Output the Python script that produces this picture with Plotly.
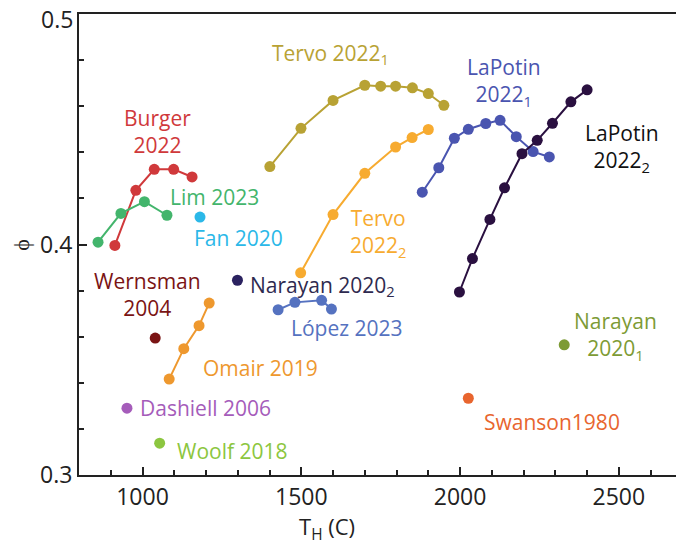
import plotly.graph_objects as go

# ---------------- data ----------------
burger_x = [913, 979, 1037, 1098, 1156]
burger_y = [0.3996, 0.4235, 0.4326, 0.4326, 0.4293]

lim_x = [860, 932, 1006, 1077]
lim_y = [0.4010, 0.4135, 0.4186, 0.4127]

fan_x = [1181]
fan_y = [0.4119]

wernsman_x = [1040]
wernsman_y = [0.3594]

narayan2_x = [1299]
narayan2_y = [0.3845]

lopez_x = [1427, 1480, 1564, 1595]
lopez_y = [0.3717, 0.3749, 0.3758, 0.3720]

omair_x = [1084, 1130, 1178, 1210]
omair_y = [0.3416, 0.3548, 0.3648, 0.3746]

dashiell_x = [951]
dashiell_y = [0.3290]

woolf_x = [1054]
woolf_y = [0.3138]

tervo1_x = [1401, 1499, 1600, 1700, 1750, 1797, 1850, 1900, 1949]
tervo1_y = [0.4338, 0.4504, 0.4625, 0.4691, 0.4687, 0.4687, 0.4680, 0.4655, 0.4604]

tervo2_x = [1498, 1600, 1700, 1797, 1849, 1900]
tervo2_y = [0.3877, 0.4130, 0.4309, 0.4423, 0.4464, 0.4499]

lapotin1_x = [1881, 1933, 1982, 2026, 2081, 2126, 2177, 2230, 2281]
lapotin1_y = [0.4227, 0.4333, 0.4461, 0.4500, 0.4525, 0.4539, 0.4468, 0.4403, 0.4380]

lapotin2_x = [1998, 2039, 2094, 2140, 2195, 2243, 2291, 2349, 2400]
lapotin2_y = [0.3794, 0.3939, 0.4109, 0.4246, 0.4394, 0.4452, 0.4526, 0.4619, 0.4671]

narayan1_x = [2328]
narayan1_y = [0.3565]

swanson_x = [2026]
swanson_y = [0.3333]

x_tick_vals = [1000, 1500, 2000, 2500]
y_tick_vals = [0.3, 0.4, 0.5]
y_tick_text = ["0.3", "0.4", ""]   # top label drawn below as annotation
y_top_label = "0.5"

# ---------------- styling ----------------
FONT = "Open Sans"
INK = "#222222"
series = [
    (burger_x, burger_y, "#d0393b"),
    (lim_x, lim_y, "#43b56c"),
    (fan_x, fan_y, "#2bb8e8"),
    (wernsman_x, wernsman_y, "#7a1414"),
    (narayan2_x, narayan2_y, "#2b2260"),
    (lopez_x, lopez_y, "#5572c0"),
    (omair_x, omair_y, "#ee982e"),
    (dashiell_x, dashiell_y, "#a55cba"),
    (woolf_x, woolf_y, "#8cc640"),
    (tervo1_x, tervo1_y, "#b8a234"),
    (tervo2_x, tervo2_y, "#f7ab30"),
    (lapotin1_x, lapotin1_y, "#4a55b0"),
    (lapotin2_x, lapotin2_y, "#2a1040"),
    (narayan1_x, narayan1_y, "#7d9b35"),
    (swanson_x, swanson_y, "#e8652e"),
]

fig = go.Figure()
for xs, ys, col in series:
    fig.add_trace(go.Scatter(
        x=xs, y=ys, mode="lines+markers",
        line=dict(color=col, width=2),
        marker=dict(color=col, size=11),
        showlegend=False, hoverinfo="skip", cliponaxis=False,
    ))

labels = [
    ("Burger<br>2022", 1046, 0.4492, "#d0393b", "center"),
    ("Lim 2023", 1228, 0.4206, "#43b56c", "center"),
    ("Fan 2020", 1301, 0.4028, "#2bb8e8", "center"),
    ("Wernsman<br>2004", 1017, 0.3783, "#7a1414", "center"),
    ("Narayan 2020<sub>2</sub>", 1332, 0.3822, "#2e2a4f", "left"),
    ("López 2023", 1644, 0.3638, "#5572c0", "center"),
    ("Omair 2019", 1370, 0.3464, "#ee982e", "center"),
    ("Dashiell 2006", 986, 0.3291, "#a55cba", "left"),
    ("Woolf 2018", 1282, 0.3104, "#8cc640", "center"),
    ("Tervo 2022<sub>1</sub>", 1401, 0.4827, "#b8a234", "left"),
    ("Tervo<br>2022<sub>2</sub>", 1742, 0.4049, "#f7ab30", "center"),
    ("LaPotin<br>2022<sub>1</sub>", 2138, 0.4703, "#4a55b0", "center"),
    ("LaPotin<br>2022<sub>2</sub>", 2510, 0.4418, "#111111", "center"),
    ("Narayan<br>2020<sub>1</sub>", 2488, 0.3603, "#7d9b35", "center"),
    ("Swanson1980", 2289, 0.3230, "#e8652e", "center"),
]
for text, x, y, col, anchor in labels:
    fig.add_annotation(
        x=x, y=y, xref="x", yref="y", text=text, showarrow=False,
        xanchor=anchor, yanchor="middle", align="center",
        font=dict(family=FONT, size=21, color=col),
    )

# top y tick label (kept inside the page)
fig.add_annotation(
    x=0, y=y_tick_vals[-1], xref="paper", yref="y", text=y_top_label,
    showarrow=False, xanchor="right", yanchor="middle", xshift=-4, yshift=-5,
    font=dict(family=FONT, size=23, color=INK),
)

# axis titles
fig.add_annotation(
    x=(327 - 79) / 597, y=-0.074, xref="paper", yref="paper",
    text="T<sub>H</sub> (C)", showarrow=False, xanchor="center", yanchor="top",
    font=dict(family=FONT, size=22, color=INK),
)
fig.add_annotation(
    x=-0.1, y=0.5, xref="paper", yref="paper", text="ϕ", textangle=-90,
    showarrow=False, xanchor="center", yanchor="middle",
    font=dict(family=FONT, size=22, color=INK),
)

axis_common = dict(
    showgrid=False, zeroline=False, showline=True, linecolor=INK,
    linewidth=2, ticks="inside", tickcolor=INK, tickwidth=1.5,
    ticklen=8, tickfont=dict(family=FONT, size=23, color=INK),
    automargin=False, ticklabeloverflow="allow",
)
fig.update_xaxes(
    range=[800, 2680], tickvals=x_tick_vals, mirror=True,
    minor=dict(dtick=100, tick0=0, ticks="inside", ticklen=5,
               tickcolor=INK, tickwidth=1.5),
    **axis_common,
)
fig.update_yaxes(
    range=[0.3, 0.50001], tickvals=y_tick_vals, ticktext=y_tick_text,
    minor=dict(dtick=0.02, tick0=0.3, ticks="inside", ticklen=5,
               tickcolor=INK, tickwidth=1.5),
    **axis_common,
)

fig.update_layout(
    width=676, height=557,
    margin=dict(l=79, r=0, t=14, b=82),
    plot_bgcolor="white", paper_bgcolor="white",
    font=dict(family=FONT),
)

fig.write_html(
    "out.html",
    config={"displayModeBar": False},
    post_script="document.body.style.margin='0px';document.body.style.overflow='hidden';",
)
